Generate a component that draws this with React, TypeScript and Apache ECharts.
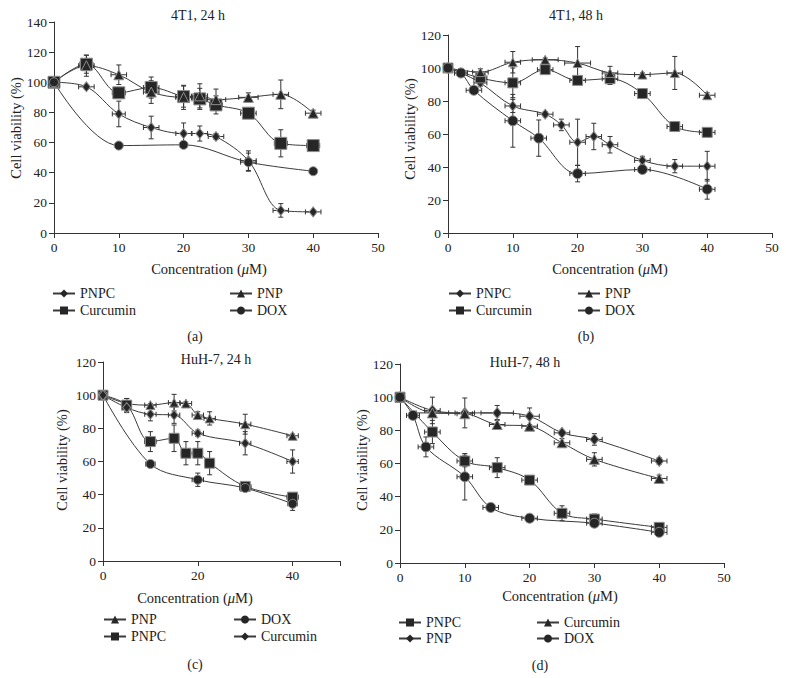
import React, { useEffect, useRef } from 'react';
import * as echarts from 'echarts';

// ---------- Panel (a): 4T1, 24 h ----------
const a_PNPC_x = [0, 5, 10, 15, 20, 22.5, 25, 30, 35, 40];
const a_PNPC_y = [100, 97, 79, 70, 66, 66, 64, 48, 15, 14];
const a_PNPC_ey = [0, 1.5, 8.5, 7.5, 7, 5, 2, 6.5, 4.5, 1];
const a_PNPC_ex = [0, 1.2, 1, 1.2, 1.2, 1.2, 1.2, 1.2, 1.2, 1.2];

const a_PNP_x = [0, 5, 10, 15, 20, 22.5, 25, 30, 35, 40];
const a_PNP_y = [100, 111, 105, 93.5, 90, 91, 88.5, 90, 92, 79.5];
const a_PNP_ey = [0, 7, 6.5, 7.5, 8, 8, 7, 3, 9.5, 2];
const a_PNP_ex = [0, 1.2, 1.2, 1.2, 1.2, 1.2, 1.5, 1.5, 1.2, 1.2];

const a_CUR_x = [0, 5, 10, 15, 20, 22.5, 25, 30, 35, 40];
const a_CUR_y = [100, 112, 93, 96.5, 90.5, 89, 85, 79.5, 59.5, 58];
const a_CUR_ey = [0, 6, 3, 7, 7, 7, 6, 1.5, 9, 2];
const a_CUR_ex = [0, 1, 1, 1.2, 1.2, 1.2, 1, 1.2, 1, 1];

const a_DOX_x = [0, 10, 20, 30, 40];
const a_DOX_y = [100, 58, 58.5, 47, 41];
const a_DOX_ey = [0, 1, 1, 6, 1];
const a_DOX_ex = [0, 0, 0, 1.2, 0];

// ---------- Panel (b): 4T1, 48 h ----------
const b_PNPC_x = [0, 2, 5, 10, 15, 17.5, 20, 22.5, 25, 30, 35, 40];
const b_PNPC_y = [100, 97, 91, 77, 72, 65.5, 55, 58.5, 53.5, 44, 40.5, 40.5];
const b_PNPC_ey = [0, 1, 2, 4, 1.5, 3.5, 14, 8, 5, 2.5, 4, 9];
const b_PNPC_ex = [0, 1, 1, 1.2, 1.2, 1.2, 1.2, 1.2, 1.2, 1.2, 1.2, 1.2];

const b_PNP_x = [0, 5, 10, 15, 20, 25, 30, 35, 40];
const b_PNP_y = [100, 97.5, 103.5, 105, 103, 97, 96, 97, 83.5];
const b_PNP_ey = [0, 2, 6.5, 1, 10, 4, 1, 10, 1.5];
const b_PNP_ex = [0, 1.2, 1.2, 2, 2, 1.2, 1.2, 1.2, 1.2];

const b_CUR_x = [0, 5, 10, 15, 20, 25, 30, 35, 40];
const b_CUR_y = [100, 94, 91, 99, 92.5, 93.5, 84.5, 64.5, 61];
const b_CUR_ey = [0, 3, 9, 1, 1, 3.5, 3, 1, 2];
const b_CUR_ex = [0, 1, 1.2, 1.2, 1.2, 1.2, 1.2, 1.2, 1.2];

const b_DOX_x = [0, 2, 4, 10, 14, 20, 30, 40];
const b_DOX_y = [100, 97, 86.5, 68, 57.5, 36, 38.5, 26.5];
const b_DOX_ey = [0, 1, 1.5, 16, 11, 5, 1.5, 6];
const b_DOX_ex = [0, 1, 1.2, 1.2, 1.2, 1.2, 1.2, 1.2];

// ---------- Panel (c): HuH-7, 24 h ----------
const c_PNP_x = [0, 5, 10, 15, 17.5, 20, 22.5, 30, 40];
const c_PNP_y = [100, 95, 94, 95.5, 95, 88, 86, 82.5, 75.5];
const c_PNP_ey = [0, 3, 1, 5, 1, 2, 4, 6, 1];
const c_PNP_ex = [0, 1, 1.2, 1.2, 1.2, 1.2, 1.2, 1.2, 1.2];

const c_PNPC_x = [0, 5, 10, 15, 17.5, 20, 22.5, 30, 40];
const c_PNPC_y = [100, 94, 72, 74, 65, 65, 59, 45, 38.5];
const c_PNPC_ey = [0, 4, 6, 8, 7, 7, 7, 1, 1.5];
const c_PNPC_ex = [0, 1, 1.2, 1, 1, 1, 1, 1.2, 1.2];

const c_DOX_x = [0, 10, 20, 30, 40];
const c_DOX_y = [100, 58.5, 49, 44, 34.5];
const c_DOX_ey = [0, 1, 4, 1, 4];
const c_DOX_ex = [0, 1, 1.2, 1.2, 1];

const c_CUR_x = [0, 5, 10, 15, 20, 30, 40];
const c_CUR_y = [100, 92.5, 88.5, 88, 77, 71, 60];
const c_CUR_ey = [0, 3, 4, 5, 2, 7, 7];
const c_CUR_ex = [0, 1, 1.2, 1.2, 1.2, 1.2, 1.2];

// ---------- Panel (d): HuH-7, 48 h ----------
const d_PNPC_x = [0, 5, 10, 15, 20, 25, 30, 40];
const d_PNPC_y = [100, 79, 61.5, 57.5, 50, 30, 26.5, 21.5];
const d_PNPC_ey = [0, 7, 3.5, 6, 1, 4.5, 3, 1.5];
const d_PNPC_ex = [0, 1.2, 1.2, 1.2, 1.2, 1.2, 1.2, 1.2];

const d_PNP_x = [0, 5, 10, 15, 20, 25, 30, 40];
const d_PNP_y = [100, 92, 90.5, 90.5, 88.5, 78.5, 74.5, 61.5];
const d_PNP_ey = [0, 8, 9, 4.5, 5, 1.5, 3.5, 2];
const d_PNP_ex = [0, 1.2, 1.5, 2.5, 1.5, 1.2, 1.2, 1.2];

const d_CUR_x = [0, 5, 10, 15, 20, 25, 30, 40];
const d_CUR_y = [100, 90.5, 90, 83.5, 82.5, 72.5, 62.5, 51];
const d_CUR_ey = [0, 2, 1, 3, 1, 2.5, 4, 2];
const d_CUR_ex = [0, 2.5, 1.2, 1.2, 1.2, 1.2, 1.2, 1.2];

const d_DOX_x = [0, 2, 4, 10, 14, 20, 30, 40];
const d_DOX_y = [100, 89, 70, 52, 33.5, 27, 24, 18.5];
const d_DOX_ey = [0, 1, 6, 14, 1, 2, 2, 1.5];
const d_DOX_ex = [0, 1, 1.2, 1.2, 1.2, 1.2, 1.2, 1.2];

// ---------- Axis ticks / text ----------
const panelTitles = ['4T1, 24 h', '4T1, 48 h', 'HuH-7, 24 h', 'HuH-7, 48 h'];
const panelLetters = ['(a)', '(b)', '(c)', '(d)'];
const yMaxes = [140, 120, 120, 120];
const xIntervals = [10, 10, 20, 10];
const xMax = 50;
const yLabel = 'Cell viability (%)';
const xLabelRich = 'Concentration ({i|\u03bc}M)';

const FONT = '"Liberation Serif", "Times New Roman", serif';
const INK = '#222';
const LINE = '#3a3a3a';

type Ser = {
  key: string;
  panel: number;
  symbol: string;
  size: number | number[];
  x: number[];
  y: number[];
  ex: number[];
  ey: number[];
};

const DIAMOND = 'diamond';
const SQUARE = 'rect';
const TRI = 'triangle';
const CIRC = 'circle';

const seriesDefs: Ser[] = [
  { key: 'PNPC|a', panel: 0, symbol: DIAMOND, size: [8, 10], x: a_PNPC_x, y: a_PNPC_y, ex: a_PNPC_ex, ey: a_PNPC_ey },
  { key: 'Curcumin|a', panel: 0, symbol: SQUARE, size: 12, x: a_CUR_x, y: a_CUR_y, ex: a_CUR_ex, ey: a_CUR_ey },
  { key: 'PNP|a', panel: 0, symbol: TRI, size: 10, x: a_PNP_x, y: a_PNP_y, ex: a_PNP_ex, ey: a_PNP_ey },
  { key: 'DOX|a', panel: 0, symbol: CIRC, size: 9, x: a_DOX_x, y: a_DOX_y, ex: a_DOX_ex, ey: a_DOX_ey },

  { key: 'PNPC|b', panel: 1, symbol: DIAMOND, size: [8, 10], x: b_PNPC_x, y: b_PNPC_y, ex: b_PNPC_ex, ey: b_PNPC_ey },
  { key: 'Curcumin|b', panel: 1, symbol: SQUARE, size: 10, x: b_CUR_x, y: b_CUR_y, ex: b_CUR_ex, ey: b_CUR_ey },
  { key: 'PNP|b', panel: 1, symbol: TRI, size: 9, x: b_PNP_x, y: b_PNP_y, ex: b_PNP_ex, ey: b_PNP_ey },
  { key: 'DOX|b', panel: 1, symbol: CIRC, size: 10, x: b_DOX_x, y: b_DOX_y, ex: b_DOX_ex, ey: b_DOX_ey },

  { key: 'PNP|c', panel: 2, symbol: TRI, size: 9, x: c_PNP_x, y: c_PNP_y, ex: c_PNP_ex, ey: c_PNP_ey },
  { key: 'PNPC|c', panel: 2, symbol: SQUARE, size: 10, x: c_PNPC_x, y: c_PNPC_y, ex: c_PNPC_ex, ey: c_PNPC_ey },
  { key: 'DOX|c', panel: 2, symbol: CIRC, size: 9, x: c_DOX_x, y: c_DOX_y, ex: c_DOX_ex, ey: c_DOX_ey },
  { key: 'Curcumin|c', panel: 2, symbol: DIAMOND, size: [8, 10], x: c_CUR_x, y: c_CUR_y, ex: c_CUR_ex, ey: c_CUR_ey },

  { key: 'PNPC|d', panel: 3, symbol: SQUARE, size: 10, x: d_PNPC_x, y: d_PNPC_y, ex: d_PNPC_ex, ey: d_PNPC_ey },
  { key: 'PNP|d', panel: 3, symbol: DIAMOND, size: [9, 11], x: d_PNP_x, y: d_PNP_y, ex: d_PNP_ex, ey: d_PNP_ey },
  { key: 'Curcumin|d', panel: 3, symbol: TRI, size: 10, x: d_CUR_x, y: d_CUR_y, ex: d_CUR_ex, ey: d_CUR_ey },
  { key: 'DOX|d', panel: 3, symbol: CIRC, size: 10, x: d_DOX_x, y: d_DOX_y, ex: d_DOX_ex, ey: d_DOX_ey },
];

// layout (pixels)
const grids = [
  { left: 54, top: 22, width: 324, height: 211 },
  { left: 448, top: 35, width: 324, height: 198 },
  { left: 103, top: 362, width: 237, height: 199 },
  { left: 400, top: 364, width: 324, height: 199 },
];
const titlePos = [[198, 15], [576, 15], [216, 359], [525, 362]];
const yLabelPos = [[16, 128], [410, 129], [62, 460], [362, 460]];
const xLabelPos = [[209, 269], [610, 269], [195, 598], [560, 596]];
const letterPos = [[195, 336], [586, 336], [195, 664], [540, 665]];
const legendCols = [
  { names: [['PNPC|a', 'Curcumin|a'], ['PNP|a', 'DOX|a']], lefts: [52, 229], top: 286, gap: 2 },
  { names: [['PNPC|b', 'Curcumin|b'], ['PNP|b', 'DOX|b']], lefts: [448, 577], top: 286, gap: 2 },
  { names: [['PNP|c', 'PNPC|c'], ['DOX|c', 'Curcumin|c']], lefts: [103, 233], top: 612, gap: 2 },
  { names: [['PNPC|d', 'PNP|d'], ['Curcumin|d', 'DOX|d']], lefts: [398, 536], top: 615, gap: 1 },
];

function buildOption() {
  const grid = grids.map((g) => ({ ...g, containLabel: false }));
  const axisLine = { show: true, onZero: false, lineStyle: { color: '#333', width: 1 } };
  const axisTick = { show: true, length: 5, inside: false, lineStyle: { color: '#333', width: 1 } };
  const xAxis = grids.map((_, i) => ({
    type: 'value',
    gridIndex: i,
    min: 0,
    max: xMax,
    interval: xIntervals[i],
    axisLine,
    axisTick,
    splitLine: { show: false },
    axisLabel: {
      fontFamily: FONT,
      fontSize: 13.5,
      color: INK,
      margin: 7,
      formatter: (v: number) => (v % xIntervals[i] === 0 ? String(v) : ''),
    },
  }));
  const yAxis = grids.map((_, i) => ({
    type: 'value',
    gridIndex: i,
    min: 0,
    max: yMaxes[i],
    interval: 20,
    axisLine,
    axisTick,
    splitLine: { show: false },
    axisLabel: { fontFamily: FONT, fontSize: 13.5, color: INK, margin: 7 },
  }));

  const series: any[] = [];
  seriesDefs.forEach((s) => {
    const errData = s.x.map((xv, j) => [xv, s.y[j], s.ex[j], s.ey[j]]);
    series.push({
      type: 'custom',
      name: s.key + '-err',
      xAxisIndex: s.panel,
      yAxisIndex: s.panel,
      z: 1,
      silent: true,
      data: errData,
      renderItem: (_p: any, api: any) => {
        const x = api.value(0);
        const y = api.value(1);
        const ex = api.value(2);
        const ey = api.value(3);
        const children: any[] = [];
        const st = { stroke: '#333', lineWidth: 1 };
        const cap = 2.5;
        if (ey > 0) {
          const t = api.coord([x, y + ey]);
          const b = api.coord([x, y - ey]);
          children.push({ type: 'line', shape: { x1: t[0], y1: t[1], x2: b[0], y2: b[1] }, style: st });
          children.push({ type: 'line', shape: { x1: t[0] - cap, y1: t[1], x2: t[0] + cap, y2: t[1] }, style: st });
          children.push({ type: 'line', shape: { x1: b[0] - cap, y1: b[1], x2: b[0] + cap, y2: b[1] }, style: st });
        }
        if (ex > 0) {
          const l = api.coord([x - ex, y]);
          const r = api.coord([x + ex, y]);
          children.push({ type: 'line', shape: { x1: l[0], y1: l[1], x2: r[0], y2: r[1] }, style: st });
          children.push({ type: 'line', shape: { x1: l[0], y1: l[1] - cap, x2: l[0], y2: l[1] + cap }, style: st });
          children.push({ type: 'line', shape: { x1: r[0], y1: r[1] - cap, x2: r[0], y2: r[1] + cap }, style: st });
        }
        return { type: 'group', children };
      },
    });
    series.push({
      type: 'line',
      name: s.key,
      xAxisIndex: s.panel,
      yAxisIndex: s.panel,
      z: 3,
      smooth: 0.35,
      symbol: s.symbol,
      symbolSize: s.size,
      showAllSymbol: true,
      data: s.x.map((xv, j) => [xv, s.y[j]]),
      lineStyle: { color: LINE, width: 1 },
      itemStyle: { color: '#262626', borderColor: '#8c8c8c', borderWidth: 1 },
      emphasis: { disabled: true },
    });
  });

  const legend: any[] = [];
  legendCols.forEach((lc) => {
    lc.names.forEach((col, ci) => {
      legend.push({
        orient: 'vertical',
        left: lc.lefts[ci],
        top: lc.top,
        itemWidth: 22,
        itemHeight: 10,
        itemGap: lc.gap,
        padding: 0,
        selectedMode: false,
        data: col,
        formatter: (n: string) => n.split('|')[0],
        itemStyle: { borderWidth: 0 },
        textStyle: { fontFamily: FONT, fontSize: 14, color: INK, lineHeight: 15 },
      });
    });
  });

  const graphic: any[] = [];
  const txt = (x: number, y: number, text: string, size: number, rot = 0) => ({
    type: 'text',
    x,
    y,
    rotation: rot,
    silent: true,
    style: {
      text,
      fill: INK,
      font: `${size}px ${FONT}`,
      fontFamily: FONT,
      fontSize: size,
      align: 'center',
      verticalAlign: 'middle',
      textAlign: 'center',
      textVerticalAlign: 'middle',
      rich: {
        i: { fontFamily: FONT, fontSize: size, fontStyle: 'italic', fill: INK },
      },
    },
  });
  for (let i = 0; i < 4; i++) {
    graphic.push(txt(titlePos[i][0], titlePos[i][1], panelTitles[i], 14));
    graphic.push(txt(yLabelPos[i][0], yLabelPos[i][1], yLabel, 14.5, Math.PI / 2));
    graphic.push(txt(xLabelPos[i][0], xLabelPos[i][1], xLabelRich, 14.5));
    graphic.push(txt(letterPos[i][0], letterPos[i][1], panelLetters[i], 14));
  }

  return {
    animation: false,
    backgroundColor: '#ffffff',
    grid,
    xAxis,
    yAxis,
    series,
    legend,
    graphic,
  };
}

export default function App() {
  const ref = useRef<HTMLDivElement>(null);
  useEffect(() => {
    document.body.style.margin = '0';
    if (!ref.current) return;
    const chart = echarts.init(ref.current, undefined, { renderer: 'svg' });
    chart.setOption(buildOption() as any);
    return () => chart.dispose();
  }, []);
  return <div ref={ref} style={{ width: 786, height: 678 }} />;
}
